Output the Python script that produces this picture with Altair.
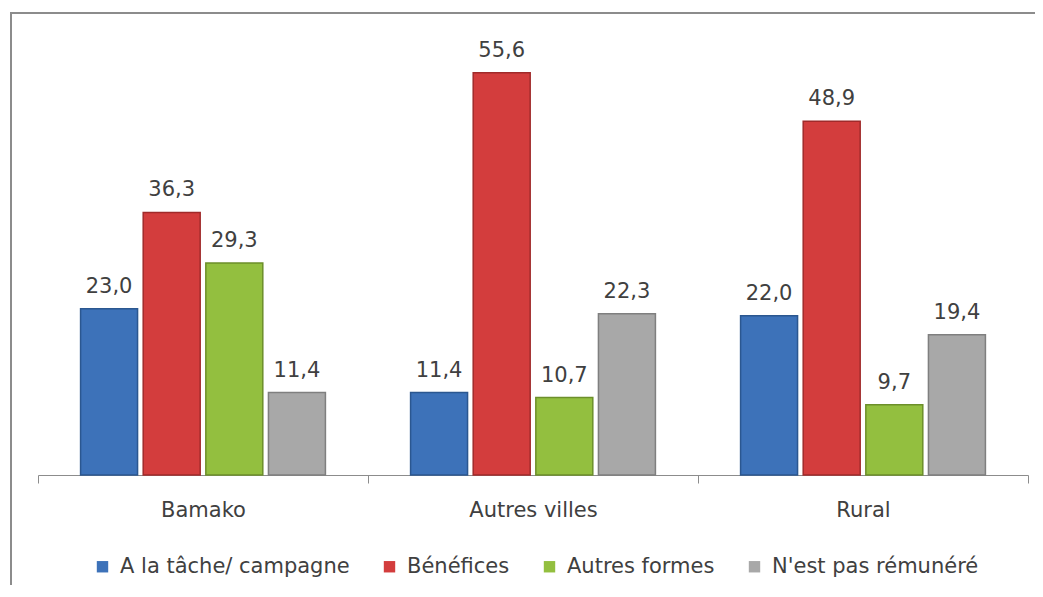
import altair as alt
import pandas as pd

categories = ["Bamako", "Autres villes", "Rural"]
series = ["A la tâche/ campagne", "Bénéfices", "Autres formes", "N'est pas rémunéré"]
values = {
    "A la tâche/ campagne": [23.0, 11.4, 22.0],
    "Bénéfices": [36.3, 55.6, 48.9],
    "Autres formes": [29.3, 10.7, 9.7],
    "N'est pas rémunéré": [11.4, 22.3, 19.4],
}
colors = ["#3d72b9", "#d33d3d", "#93bf3f", "#a8a8a8"]
strokes = ["#2b5790", "#a02a2a", "#6c8f2a", "#7f7f7f"]

rows = []
for s in series:
    for c, v in zip(categories, values[s]):
        rows.append({"cat": c, "serie": s, "val": v,
                     "lab": f"{v:.1f}".replace(".", ",")})
df = pd.DataFrame(rows)

FONT = "DejaVu Sans"
FS = 21

x = alt.X("cat:N", sort=categories, title=None,
          scale=alt.Scale(paddingInner=0, paddingOuter=0),
          axis=alt.Axis(labelAngle=0, labelFontSize=FS, labelFont=FONT,
                        labelColor="#404040", labelPadding=16,
                        tickBand="extent", tickSize=8, tickColor="#8c8c8c",
                        domainColor="#8c8c8c", domainWidth=1.2, grid=False))
xo = alt.XOffset("serie:N", sort=series,
                 scale=alt.Scale(paddingInner=0.09, paddingOuter=0.68))
y = alt.Y("val:Q", title=None, scale=alt.Scale(domain=[0, 60]), axis=None)

base = alt.Chart(df).encode(x=x, xOffset=xo, y=y)

bars = base.mark_bar(strokeWidth=1.5).encode(
    color=alt.Color("serie:N", sort=series, title=None,
                    scale=alt.Scale(domain=series, range=colors),
                    legend=alt.Legend(orient="none", direction="horizontal",
                                      legendX=54, legendY=515,
                                      symbolType="square", symbolSize=130,
                                      symbolStrokeWidth=0,
                                      labelFontSize=FS, labelFont=FONT,
                                      labelColor="#404040", columnPadding=29,
                                      labelOffset=7,
                                      symbolOffset=0, labelLimit=400)),
    stroke=alt.Stroke("serie:N", sort=series,
                      scale=alt.Scale(domain=series, range=strokes), legend=None),
)

labels = base.mark_text(dy=-12, baseline="bottom", fontSize=FS, font=FONT,
                        color="#404040").encode(text="lab:N")

frame = alt.Chart(alt.Data(values=[{"a": 1}])).mark_rect(
    fill=None, stroke="#8c8c8c", strokeWidth=2).encode(
    x=alt.value(-27), x2=alt.value(1200), y=alt.value(-28), y2=alt.value(900))

chart = alt.layer(frame, bars, labels).properties(
    width=990, height=434,
    padding={"left": 30, "top": 33, "right": 7, "bottom": 110},
    autosize=alt.AutoSizeParams(type="none"),
).configure_view(stroke=None)

chart.save("out.html", embed_options={"renderer": "svg", "actions": False})
